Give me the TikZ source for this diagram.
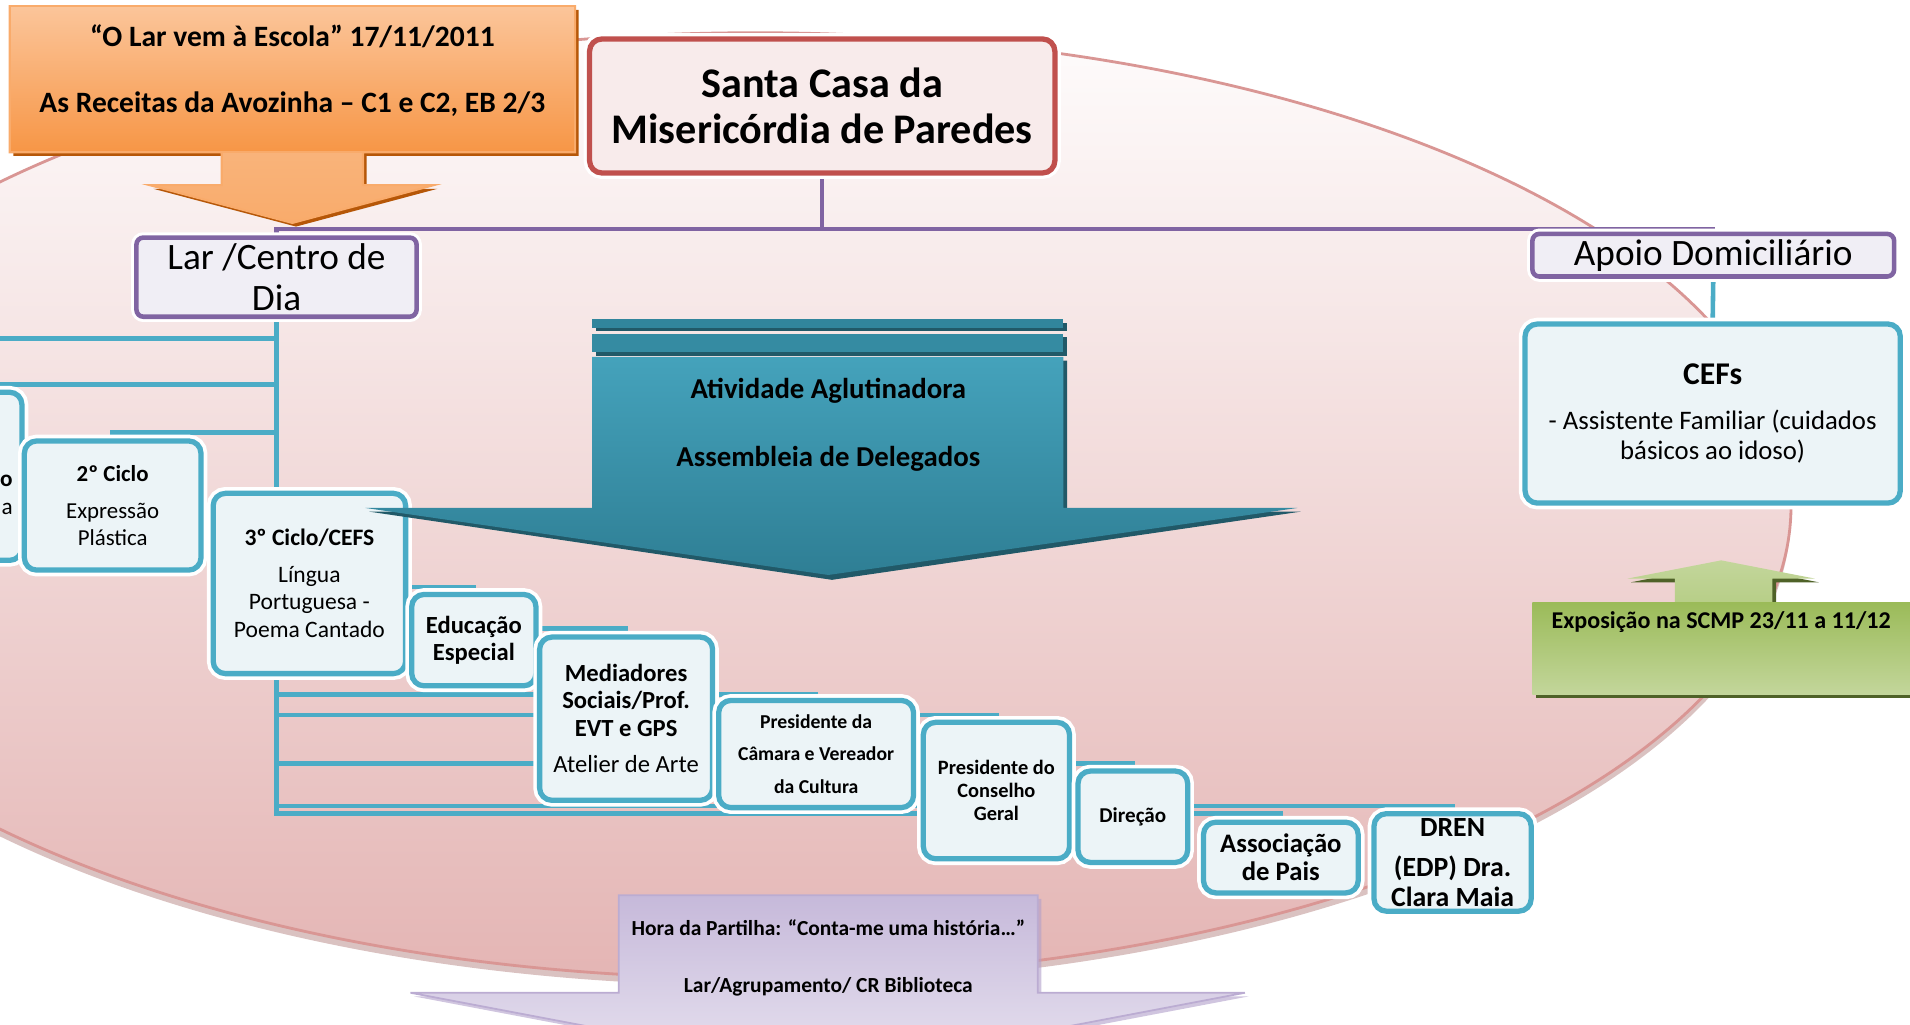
\documentclass[tikz,border=0pt]{standalone}
\usepackage{fontspec}
\setmainfont{Carlito}
\usetikzlibrary{calc,backgrounds,positioning}
\definecolor{tealb}{HTML}{4BACC6}
\definecolor{tealf}{HTML}{ECF4F7}
\definecolor{tealdk}{HTML}{215968}
\definecolor{tealmd}{HTML}{31859C}
\definecolor{purpb}{HTML}{8064A2}
\definecolor{purpf}{HTML}{F0EEF5}
\definecolor{redb}{HTML}{C0504D}
\definecolor{redf}{HTML}{F8EBEB}
\definecolor{pinkl}{HTML}{FEFCFC}
\definecolor{pinkm}{HTML}{F3E3E3}
\definecolor{pinkd}{HTML}{E4B5B4}
\definecolor{pinke}{HTML}{D99694}
\definecolor{orgl}{HTML}{FBC59A}
\definecolor{orgm}{HTML}{F79646}
\definecolor{orgd}{HTML}{B65708}
\definecolor{grnl}{HTML}{C3D69B}
\definecolor{grnm}{HTML}{9BBB59}
\definecolor{grnd}{HTML}{4F6228}
\definecolor{lavl}{HTML}{E8E3F0}
\definecolor{lavm}{HTML}{C6B9DA}
\newcommand{\unitpx}{0.012181cm}

\begin{document}
\begin{tikzpicture}[x=0.012181cm, y=-0.012181cm]
    \tikzset{
        ln/.style={draw=tealb, line width=1.3pt},
        pl/.style={draw=purpb, line width=1.2pt},
        tb/.style={draw=tealb, line width=1.5pt, fill=tealf, rounded corners=3.5pt, inner sep=0pt, align=center, preaction={draw=white, line width=3.6pt}},
        pb/.style={draw=purpb, line width=1.3pt, fill=purpf, rounded corners=2pt, inner sep=0pt, align=center, preaction={draw=white, line width=3pt}},
        tx/.style={inner sep=0pt, align=center},
        fb/.style 2 args={font=\fontsize{#1}{#2}\selectfont\bfseries},
        fr/.style 2 args={font=\fontsize{#1}{#2}\selectfont}
    }

    \useasboundingbox (0,0) rectangle (1568,841);

    \begin{pgfonlayer}{background}
        \fill[pinke!80!black, opacity=0.45] (620,421) ellipse [x radius=10.354cm, y radius=4.726cm];
        \shadedraw[top color=pinkl, middle color=pinkm, bottom color=pinkd, draw=pinke, line width=0.8pt] (620,415) ellipse [x radius=10.354cm, y radius=4.726cm];
    \end{pgfonlayer}

    \fill[orgd] (11,8) -- (475,8) -- (475,128) -- (301,128) -- (301,155) -- (359,155) -- (243,186) -- (126,155) -- (185,155) -- (185,128) -- (11,128) -- cycle;
    \shadedraw[top color=orgl, bottom color=orgm!80!white, draw=orgm!80!white, line width=0.6pt] (8,5) -- (472,5) -- (472,125) -- (298,125) -- (298,152) -- (356,152) -- (240,183) -- (123,152) -- (182,152) -- (182,125) -- (8,125) -- cycle;
    \shadedraw[top color=orgl, bottom color=orgm, draw=orgm!80!white, line width=0.6pt] (8,5) rectangle (472,125);
    \node at (240,58) [tx, fb={8.4}{19}] (lar2011) {“O Lar vem à Escola” 17/11/2011\\ As Receitas da Avozinha – C1 e C2, EB 2/3};

    \node at (675,87) [draw=redb, line width=1.5pt, fill=redf, rounded corners=3.5pt, minimum width=382*\unitpx, minimum height=110*\unitpx, tx, fb={12}{13.2}, preaction={draw=white, line width=3.4pt}] (scmp) {Santa Casa da\\ Misericórdia de Paredes};

    \node at (227,227.5) [pb, minimum width=230*\unitpx, minimum height=65*\unitpx, fr={10.6}{11.6}] (lar) {Lar /Centro de\\ Dia};
    \node at (1406.5,209.5) [pb, minimum width=297*\unitpx, minimum height=35*\unitpx, fr={10.6}{11.6}] (apoio) {Apoio Domiciliário};

    \node at (1406,339.5) [tb, minimum width=308*\unitpx, minimum height=147*\unitpx, fr={7.6}{8.3}] (cefs) {{\fontsize{9}{10}\selectfont\bfseries CEFs}\\[4.5pt] - Assistente Familiar (cuidados\\ básicos ao idoso)};

    \node at (-56,391) [tb, minimum width=148*\unitpx, minimum height=138*\unitpx] (lbox) {};
    \node at (11,406) [anchor=east, tx, align=right, fr={6.6}{8}] (ltx) {\textbf{o}\\ a};
    \node at (92.5,415) [tb, minimum width=145*\unitpx, minimum height=106*\unitpx, fr={6.5}{7.6}] (c2) {\textbf{2º Ciclo}\\[2.8pt] Expressão\\ Plástica};
    \node at (254,479) [tb, minimum width=158*\unitpx, minimum height=148*\unitpx, fr={6.7}{7.8}] (c3) {\textbf{3º Ciclo/CEFS}\\[2.6pt] Língua\\ Portuguesa -\\ Poema Cantado};
    \node at (389,525.5) [tb, minimum width=102*\unitpx, minimum height=75*\unitpx, fb={7}{7.7}] (edu) {Educação\\ Especial};
    \node at (514,590) [tb, minimum width=142*\unitpx, minimum height=134*\unitpx, fr={7}{7.7}] (med) {\textbf{Mediadores}\\ \textbf{Sociais/Prof.}\\ \textbf{EVT e GPS}\\[2.7pt] Atelier de Arte};
    \node at (670,619) [tb, minimum width=160*\unitpx, minimum height=88*\unitpx, fb={5.6}{9.2}] (cam) {Presidente da\\ Câmara e Vereador\\ da Cultura};
    \node at (818,649) [tb, minimum width=120*\unitpx, minimum height=112*\unitpx, fb={5.8}{6.6}] (cons) {Presidente do\\ Conselho\\ Geral};
    \node at (930,670.5) [tb, minimum width=90*\unitpx, minimum height=75*\unitpx, fb={6}{7}] (dir) {Direção};
    \node at (1051.5,704) [tb, minimum width=127*\unitpx, minimum height=58*\unitpx, fb={7.6}{8}] (assoc) {Associação\\ de Pais};
    \node at (1192.5,708) [tb, minimum width=129*\unitpx, minimum height=80*\unitpx, fb={7.9}{8.4}] (dren) {DREN\\[3pt] (EDP) Dra.\\ Clara Maia};

    \begin{pgfonlayer}{background}
        \draw[pl] (scmp.south) -- ++(0,44) -| (lar.north);
        \draw[pl] (scmp.south) -- ++(0,44) -| (apoio.north);
        \draw[ln] (apoio.south) -- (cefs.north);
        \coordinate (l0) at (0,278);
        \draw[ln] (lar.south) |- (l0);
        \draw[ln] (lar.south) |- ([yshift=1.4pt]lbox.north) -- (lbox.north);
        \draw[ln] (lar.south) |- ([yshift=1.7pt]c2.north) -- (c2.north);
        \draw[ln] (lar.south) -- (lar.south |- c3.north);
        \draw[ln] (lar.south) |- ([yshift=1.4pt]edu.north) -- (edu.north);
        \draw[ln] (lar.south) |- ([yshift=1.7pt]med.north) -- (med.north);
        \draw[ln] (lar.south) |- ([yshift=1pt]cam.north) -- (cam.north);
        \draw[ln] (lar.south) |- ([yshift=1.4pt]cons.north) -- (cons.north);
        \draw[ln] (lar.south) |- ([yshift=1.4pt]dir.north) -- (dir.north);
        \draw[ln] (lar.south) |- ([yshift=1.7pt]assoc.north) -- (assoc.north);
        \draw[ln] (lar.south) |- ([yshift=1.4pt]dren.north) -- (dren.north);
    \end{pgfonlayer}

    \fill[tealdk] (489,265) rectangle (876,272);
    \fill[tealmd] (486,262) rectangle (873,269);
    \fill[tealdk] (489,277) rectangle (876,292);
    \fill[tealmd!85!tealb] (486,274) rectangle (873,289);
    \fill[tealdk] (489,296) -- (876,296) -- (876,420) -- (1068,420) -- (683,476) -- (303,420) -- (489,420) -- cycle;
    \shade[top color=tealb!75!tealmd, middle color=tealb, bottom color=tealmd!95!black] (486,293) -- (873,293) -- (873,417) -- (1065,417) -- (680,472) -- (300,417) -- (486,417) -- cycle;
    \node at (680,349) [tx, fb={8.2}{19.4}] (atv) {Atividade Aglutinadora\\ Assembleia de Delegados};

    \fill[grnd] (1261,498) -- (1378,498) -- (1378,478) -- (1339,478) -- (1416,463) -- (1493,478) -- (1458,478) -- (1458,498) -- (1583,498) -- (1583,573) -- (1261,573) -- cycle;
    \shade[top color=grnl, bottom color=grnl!70!grnm] (1375,495) -- (1375,475) -- (1336,475) -- (1413,460) -- (1490,475) -- (1455,475) -- (1455,495) -- cycle;
    \shade[top color=grnm, bottom color=grnl] (1258,495) rectangle (1580,570);
    \node at (1413,511) [tx, fb={6.85}{8}] (expo) {Exposição na SCMP 23/11 a 11/12};

    \fill[lavm!70!purpb, opacity=0.6] (511,738) -- (855,738) -- (855,818) -- (1025,818) -- (683,883) -- (340,818) -- (511,818) -- cycle;
    \shadedraw[top color=lavm, bottom color=lavl, draw=lavm!85!purpb, line width=0.5pt] (508,735) -- (852,735) -- (852,815) -- (1022,815) -- (680,880) -- (337,815) -- (508,815) -- cycle;
    \node at (680,786) [tx, fb={6.1}{16.2}] (hora) {Hora da Partilha: “Conta-me uma história…”\\ Lar/Agrupamento/ CR Biblioteca};

\end{tikzpicture}
\end{document}
